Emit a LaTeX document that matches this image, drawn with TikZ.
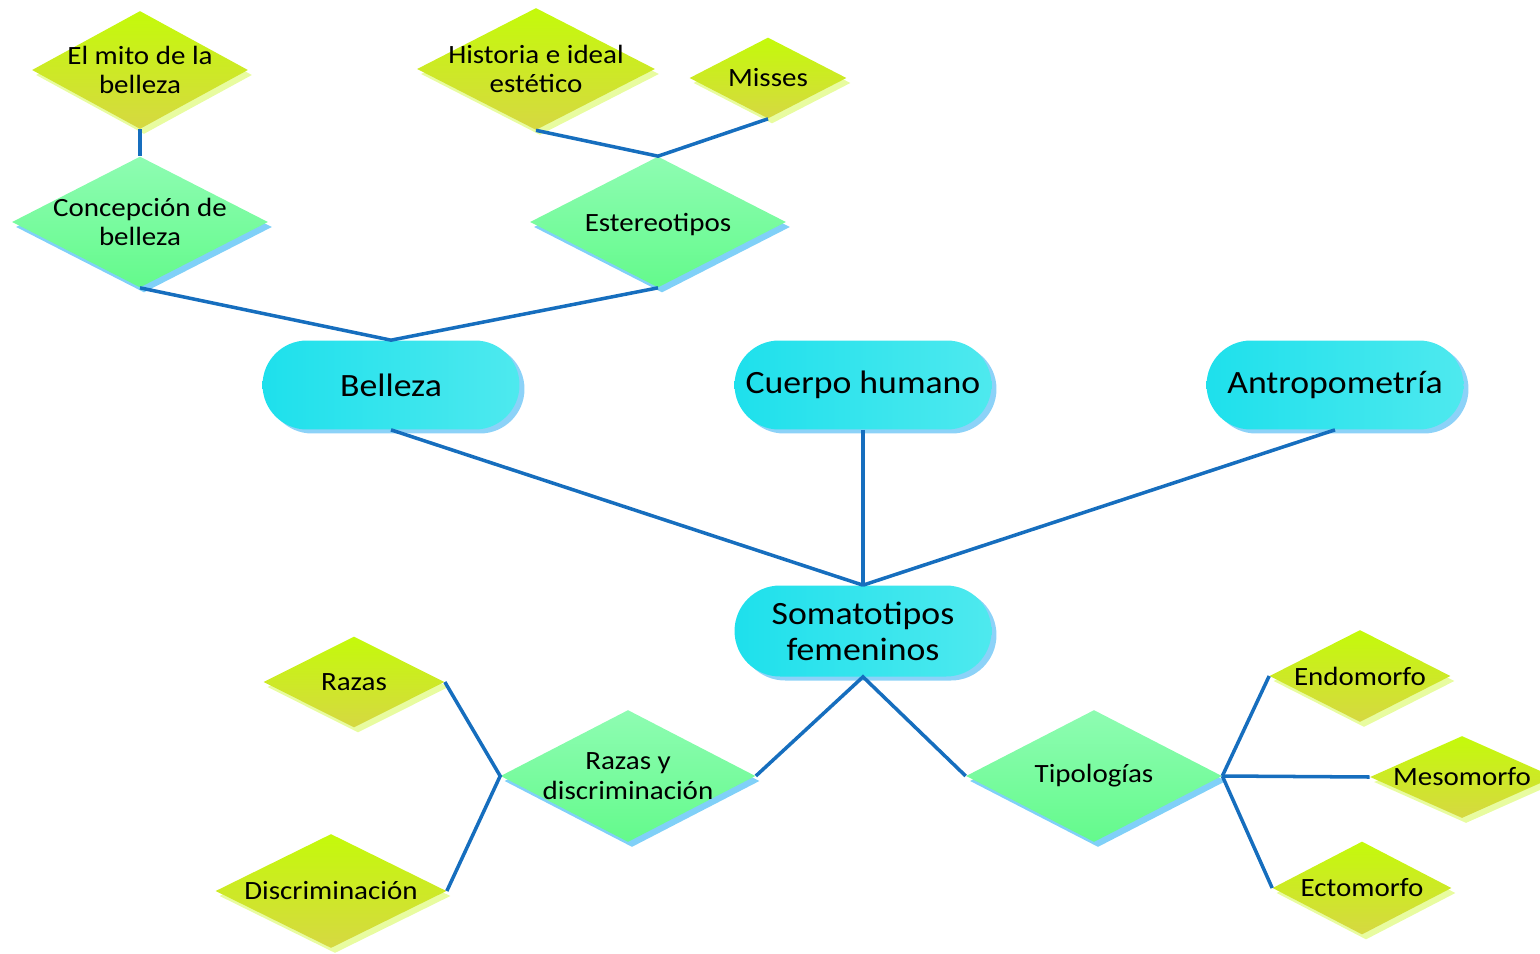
\documentclass[tikz,border=0pt]{standalone}
\usepackage{fontspec}
\setmainfont[FakeStretch=1.1]{Carlito}
\usetikzlibrary{shapes.geometric, shapes.misc, shadows, positioning}
\usepackage{xcolor}
\definecolor{linkblue}{RGB}{22, 110, 190}
\definecolor{pillleft}{RGB}{30, 224, 236}
\definecolor{pillright}{RGB}{78, 233, 238}
\definecolor{pillshadow}{RGB}{140, 210, 248}
\definecolor{greentop}{RGB}{142, 252, 178}
\definecolor{greenbottom}{RGB}{100, 250, 140}
\definecolor{greenshadow}{RGB}{128, 208, 248}
\definecolor{yellowtop}{RGB}{196, 250, 10}
\definecolor{yellowbottom}{RGB}{214, 216, 66}
\definecolor{yellowshadow}{RGB}{232, 252, 160}
\tikzset{
    % Main topics (pill shape)
    topic box/.style={
        rounded rectangle, inner sep=0pt,
        minimum width=5.14cm, minimum height=1.78cm,
        left color=pillleft, right color=pillright,
        align=center, font=\fontsize{18.5}{20.5}\selectfont,
        drop shadow={shadow xshift=0.1cm, shadow yshift=-0.08cm, fill=pillshadow, opacity=1}
    },
    % Second level (green diamonds)
    idea diamond/.style={
        diamond, inner sep=0pt,
        top color=greentop, bottom color=greenbottom,
        drop shadow={shadow xshift=0.08cm, shadow yshift=-0.1cm, fill=greenshadow, opacity=1}
    },
    % Third level (yellow diamonds)
    detail diamond/.style={
        diamond, inner sep=0pt,
        top color=yellowtop, bottom color=yellowbottom,
        drop shadow={shadow xshift=0.08cm, shadow yshift=-0.1cm, fill=yellowshadow, opacity=1}
    },
    % Diamond text
    diamond text/.style={
        align=center, inner sep=0pt, font=\fontsize{15}{17}\selectfont
    },
    % Connectors
    link/.style={
        line width=2pt, color=linkblue
    }
}
\begin{document}
\begin{tikzpicture}[x=0.02cm, y=-0.02cm]

    \useasboundingbox (0, 0) rectangle (1540, 953);

    % ======== MAIN TOPICS ========
    \node[topic box] (bel) at (391, 385) {Belleza};
    \node[topic box] (cue) at (863, 385) {Cuerpo humano};
    \node[topic box] (ant) at (1335, 385) {Antropometría};
    \node[topic box, minimum height=1.82cm] (som) at (863, 631) {Somatotipos\\femeninos};

    % ======== BELLEZA BRANCH ========
    \node[idea diamond, minimum width=5.12cm, minimum height=2.62cm,
        label={[diamond text]center:Concepción de\\belleza}] (conc) at (140, 222) {};
    \node[idea diamond, minimum width=5.12cm, minimum height=2.62cm,
        label={[diamond text, yshift=-0.05cm]center:Estereotipos}] (este) at (658, 222) {};

    \node[detail diamond, minimum width=4.32cm, minimum height=2.36cm,
        label={[diamond text]center:El mito de la\\belleza}] (mito) at (140, 70) {};
    \node[detail diamond, minimum width=4.76cm, minimum height=2.44cm,
        label={[diamond text]center:Historia e ideal\\estético}] (hist) at (536, 69) {};
    \node[detail diamond, minimum width=3.14cm, minimum height=1.62cm,
        label={[diamond text]center:Misses}] (miss) at (768, 78) {};

    % ======== SOMATOTIPOS BRANCH ========
    \node[idea diamond, minimum width=5.1cm, minimum height=2.64cm,
        label={[diamond text]center:Razas y\\discriminación}] (razd) at (628, 776) {};
    \node[idea diamond, minimum width=5.12cm, minimum height=2.64cm,
        label={[diamond text]center:Tipologías}] (tipo) at (1094, 776) {};

    \node[detail diamond, minimum width=3.62cm, minimum height=1.82cm,
        label={[diamond text]center:Razas}] (raza) at (354, 682) {};
    \node[detail diamond, minimum width=4.62cm, minimum height=2.28cm,
        label={[diamond text]center:Discriminación}] (disc) at (331, 891) {};

    \node[detail diamond, minimum width=3.62cm, minimum height=1.84cm,
        label={[diamond text]center:Endomorfo}] (endo) at (1360, 676) {};
    \node[detail diamond, minimum width=3.68cm, minimum height=1.64cm,
        label={[diamond text]center:Mesomorfo}] (meso) at (1462, 777) {};
    \node[detail diamond, minimum width=3.58cm, minimum height=1.86cm,
        label={[diamond text]center:Ectomorfo}] (ecto) at (1362, 888) {};

    % Connectors
    \draw[link] (conc.south) -- (bel.north) -- (este.south);
    \draw[link] (mito.south) -- (conc.north);
    \draw[link] (hist.south) -- (este.north) -- (miss.south);

    \draw[link] (bel.south) -- (som.north);
    \draw[link] (cue.south) -- (som.north);
    \draw[link] (ant.south) -- (som.north);

    \draw[link] (razd.east) -- (som.south) -- (tipo.west);
    \draw[link] (raza.east) -- (razd.west) -- (disc.east);
    \draw[link] (tipo.east) -- (endo.west);
    \draw[link] (tipo.east) -- (meso.west);
    \draw[link] (tipo.east) -- (ecto.west);

\end{tikzpicture}
\end{document}
